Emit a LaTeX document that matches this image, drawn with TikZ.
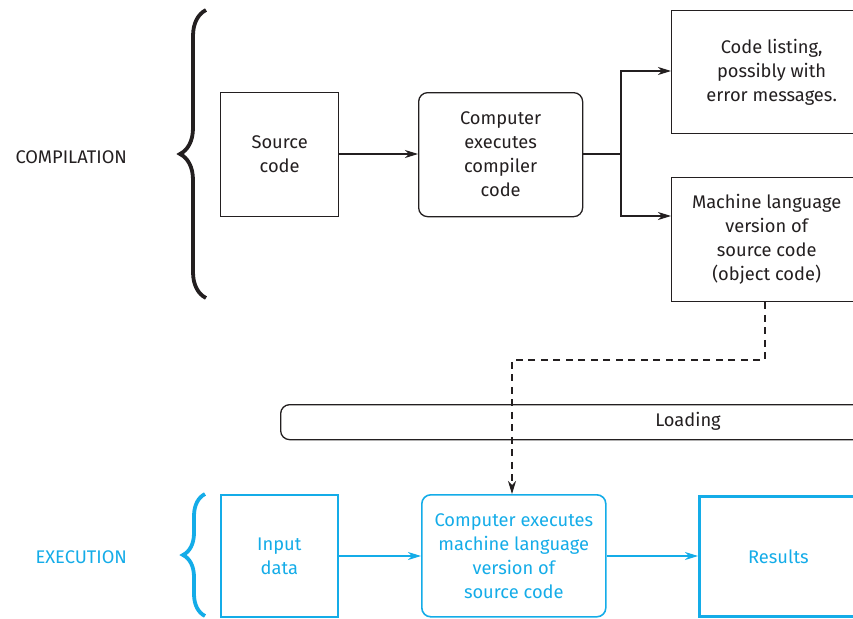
\documentclass[tikz,border=0pt]{standalone}
\usepackage{fontspec}
\setmainfont{Fira Sans}
\usetikzlibrary{arrows.meta,decorations.pathreplacing}
\definecolor{exec}{RGB}{20,172,232}
\definecolor{ink}{RGB}{35,31,32}
\tikzset{
  box/.style={draw=ink, line width=1.3pt, align=center, anchor=north west, inner sep=0pt, text=ink},
  rbox/.style={box, rounded corners=9pt},
  ebox/.style={box, draw=exec, text=exec, line width=1.6pt},
  flow/.style={draw=ink, line width=1.1pt, -{Stealth[length=13pt,width=8pt,inset=4pt]}},
  eflow/.style={flow, draw=exec, -{Stealth[length=13pt,width=8pt,inset=4pt,fill=exec]}},
  dashflow/.style={flow, dash pattern=on 7pt off 5.5pt},
  bracestyle/.style={decorate, decoration={brace, amplitude=26pt, aspect=0.5}, line width=3.8pt},
  lab/.style={font=\fontsize{18.3}{24}\selectfont}
}
\begin{document}
\begin{tikzpicture}[x=1pt, y=-1pt, every node/.style={lab}]
\useasboundingbox (0,0) rectangle (853,618);
\clip (0,0) rectangle (853,618);

% ---- compilation stage ----
\node[lab, text=ink, anchor=west] (comp) at (12,157) {COMPILATION};
\draw[bracestyle, draw=ink] (206,298) -- (206,10);

\node[box, minimum width=118pt, minimum height=124pt] (src) at (220,92) {Source\\code};
\node[rbox, minimum width=164pt, minimum height=124pt] (cc) at (418,92) {Computer\\executes\\compiler\\code};
\node[box, minimum width=200pt, minimum height=123pt] (list) at (671,10) {Code listing,\\possibly with\\error messages.};
\node[box, minimum width=190pt, minimum height=124pt] (obj) at (671,177) {Machine language\\version of\\source code\\(object code)};

\coordinate (split) at (621,154);
\draw[flow] (src.east |- 0,154) -- (cc.west |- 0,154);
\draw[draw=ink, line width=1.1pt] (cc.east |- split) -- (split);
\draw[flow] (split) |- (list.west |- 0,71);
\draw[flow] (split) |- (obj.west |- 0,216);

% ---- loading ----
\node[rbox, minimum width=590pt, minimum height=35pt] (load) at (280,404) {};
\node[lab, text=ink] (loadtxt) at (688,421) {Loading};

% ---- execution stage ----
\node[lab, text=exec, anchor=west] (execlab) at (32,557) {EXECUTION};
\draw[bracestyle, draw=exec, decoration={amplitude=22pt}] (205,616) -- (205,494);

\node[ebox, minimum width=117pt, minimum height=122pt] (in) at (220,494) {Input\\data};
\node[ebox, rounded corners=9pt, minimum width=184pt, minimum height=122pt] (run) at (421,494) {Computer executes\\machine language\\version of\\source code};
\node[ebox, line width=2.8pt, minimum width=170pt, minimum height=120pt] (res) at (698,495) {\hspace*{-12pt}Results};

\coordinate (d1) at (765,360);
\draw[dashflow] (obj.south -| d1) -- (d1) -| (run.north -| 512,0);

\draw[eflow] (in.east |- 0,556) -- (run.west |- 0,556);
\draw[eflow] (run.east |- 0,556) -- (res.west |- 0,556);
\end{tikzpicture}
\end{document}
